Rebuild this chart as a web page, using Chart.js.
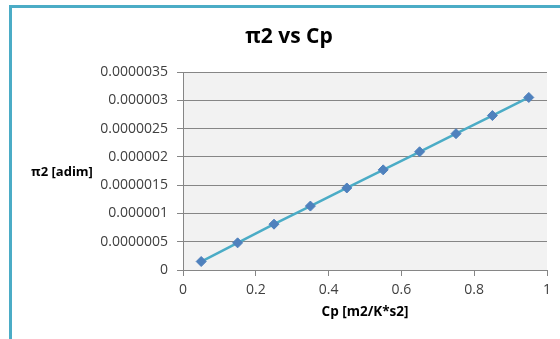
<!DOCTYPE html>
<html>
<head>
<meta charset="utf-8">
<script src="https://cdn.jsdelivr.net/npm/chart.js@4"></script>
<style>
  body { margin: 0; background: #fff; }
  #wrap { position: relative; width: 560px; height: 339px; overflow: hidden; }
  #frame { position: absolute; left: 9px; top: 5px; width: 600px; height: 400px;
           border-left: 3px solid #4bacc6; border-top: 3px solid #4bacc6; }
  canvas { position: absolute; left: 0; top: 0; }
</style>
</head>
<body>
<div id="wrap">
  <div id="frame"></div>
  <canvas id="myChart" width="560" height="339"></canvas>
</div>
<script>
const cpValues = [0.05, 0.15, 0.25, 0.35, 0.45, 0.55, 0.65, 0.75, 0.85, 0.95];
const pi2Values = [1.5e-7, 4.8e-7, 8.1e-7, 1.13e-6, 1.45e-6, 1.77e-6, 2.09e-6, 2.41e-6, 2.73e-6, 3.05e-6];
const xTickLabels = ['0', '0.2', '0.4', '0.6', '0.8', '1'];
const yTickLabels = ['0', '0.0000005', '0.000001', '0.0000015', '0.000002', '0.0000025', '0.000003', '0.0000035'];

const chartTitle = 'π2 vs Cp';
const yTitle = 'π2 [adim]';
const xTitle = 'Cp [m2/K*s2]';

const FONT = "'Open Sans', sans-serif";

// grey plot background, chart title and the horizontal y title
const plotDecor = {
    id: 'plotDecor',
    beforeDraw(chart) {
        const { ctx, chartArea: a } = chart;
        ctx.save();
        ctx.fillStyle = '#f2f2f2';
        ctx.fillRect(a.left, a.top, a.right - a.left, a.bottom - a.top);
        ctx.restore();
    },
    afterDraw(chart) {
        const { ctx, chartArea: a } = chart;
        ctx.save();
        ctx.fillStyle = '#000';
        ctx.textAlign = 'center';
        ctx.textBaseline = 'middle';
        ctx.font = 'bold 21px ' + FONT;
        ctx.fillText(chartTitle, 289, 37);
        ctx.font = 'bold 13px ' + FONT;
        ctx.fillText(yTitle, 62, (a.top + a.bottom) / 2 + 1);
        ctx.restore();
    }
};

let ctx = document.getElementById('myChart');

let myChart = new Chart(ctx, {
    type: 'scatter',
    data: {
        datasets: [{
            data: cpValues.map((x, i) => ({ x: x, y: pi2Values[i] })),
            showLine: true,
            borderColor: '#4bacc6',
            borderWidth: 2.5,
            pointStyle: 'rectRot',
            pointRadius: 5,
            pointBackgroundColor: '#4f81bd',
            pointBorderColor: '#4f81bd',
            pointBorderWidth: 1
        }]
    },
    options: {
        responsive: false,
        animation: false,
        devicePixelRatio: 1,
        layout: {
            padding: { left: 0, top: 72, right: 13, bottom: 0 }
        },
        plugins: {
            legend: { display: false },
            tooltip: { enabled: false }
        },
        scales: {
            x: {
                type: 'linear',
                min: 0,
                max: 1,
                afterFit: (scale) => { scale.height = 69; },
                ticks: {
                    stepSize: 0.2,
                    padding: 6,
                    color: '#404040',
                    font: { family: FONT, size: 14 },
                    maxRotation: 0,
                    callback: (v, i) => xTickLabels[i]
                },
                grid: {
                    drawOnChartArea: false,
                    tickLength: 6,
                    color: '#868686'
                },
                border: { color: '#868686' },
                title: {
                    display: true,
                    text: xTitle,
                    color: '#000',
                    font: { family: FONT, size: 13.5, weight: 'bold' },
                    padding: { top: 0, bottom: 19 }
                }
            },
            y: {
                type: 'linear',
                min: 0,
                max: 0.0000035,
                afterFit: (scale) => { scale.width = 183; },
                ticks: {
                    stepSize: 0.0000005,
                    padding: 9,
                    color: '#404040',
                    font: { family: FONT, size: 14 },
                    callback: (v, i) => yTickLabels[i]
                },
                grid: {
                    tickLength: 6,
                    color: '#868686'
                },
                border: { color: '#868686' }
            }
        }
    },
    plugins: [plotDecor]
});
</script>
</body>
</html>
